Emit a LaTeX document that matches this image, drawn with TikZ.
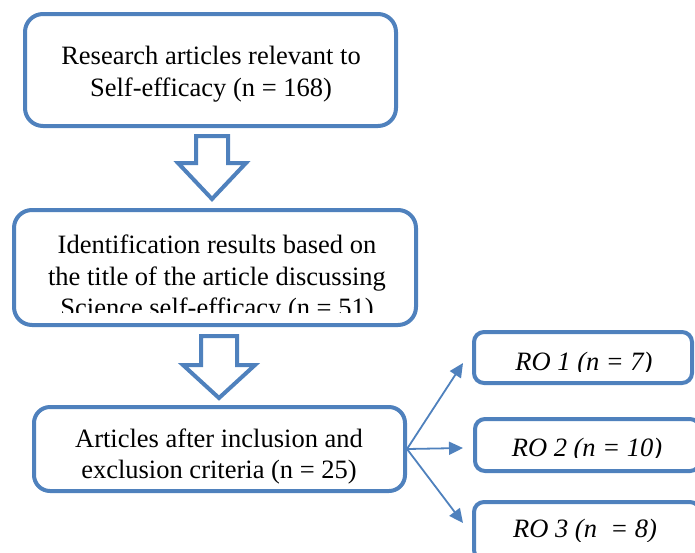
\documentclass[tikz,border=0pt]{standalone}
\usepackage{fontspec}
\setmainfont{Liberation Serif}
\usetikzlibrary{arrows.meta}
\definecolor{obl}{RGB}{79,129,189}
\tikzset{
  box/.style={draw=obl, line width=4pt, fill=white, rounded corners=#1, inner sep=0pt},
  box/.default=18pt,
  txt/.style={align=center, inner sep=0pt, font=\fontsize{26.5}{31.5}\selectfont},
  rotxt/.style={inner sep=0pt, font=\fontsize{26.5}{31.5}\selectfont\itshape},
  blockarrow/.style={draw=obl, line width=4pt, fill=white, line join=miter},
  link/.style={draw=obl, line width=1.8pt, -{Triangle[length=14pt,width=13pt]}}
}
\begin{document}
\begin{tikzpicture}[x=1pt,y=-1pt]
\useasboundingbox (0,0) rectangle (695,552);
\clip (0,0) rectangle (695,552);
% boxes
\node[box, minimum width=371pt, minimum height=112pt] (b1) at (210.5,70) {};
\node[box, minimum width=402pt, minimum height=115pt] (b2) at (215,267.5) {};
\node[box=16pt, minimum width=371pt, minimum height=84pt] (b3) at (219.5,449) {};
\node[box=10pt, minimum width=218pt, minimum height=51pt] (r1) at (583,357.5) {};
\node[box=10pt, minimum width=225pt, minimum height=52pt] (r2) at (587.5,445) {};
\node[box=10pt, minimum width=226pt, minimum height=58pt] (r3) at (587,531) {};
% texts
\node[txt] (t1) at (211,74) {Research articles relevant to\\Self-efficacy (n = 168)};
\begin{scope}
\clip (0,0) rectangle (695,312);
\node[txt] (t2) at (217,279) {Identification results based on\\the title of the article discussing\\Science self-efficacy (n = 51)};
\end{scope}
\begin{scope}
\clip (0,0) rectangle (695,485);
\node[txt] (t3) at (219,456.5) {Articles after inclusion and\\exclusion criteria (n = 25)};
\end{scope}
\begin{scope}
\clip (0,0) rectangle (695,371.5);
\node[rotxt, anchor=base] (s1) at (584,370) {RO 1 (n = 7)};
\end{scope}
\begin{scope}
\clip (0,0) rectangle (695,457.5);
\node[rotxt, anchor=base] (s2) at (587,456) {RO 2 (n = 10)};
\end{scope}
\begin{scope}
\clip (0,0) rectangle (695,541);
\node[rotxt, anchor=base] (s3) at (585,537) {RO 3 (n \ = 8)};
\end{scope}
% block arrows
\draw[blockarrow] (196,136) -- (228,136) -- (228,163) -- (246,163) -- (212,199) -- (178,163) -- (196,163) -- cycle;
\draw[blockarrow] (201,336) -- (237,336) -- (237,365) -- (255,365) -- (219,398) -- (183,365) -- (201,365) -- cycle;
% connectors
\coordinate (e1) at (463,363);
\coordinate (e2) at (463,448);
\coordinate (e3) at (463,523);
\draw[link] (b3.east) -- (e1);
\draw[link] (b3.east) -- (e2);
\draw[link] (b3.east) -- (e3);
\end{tikzpicture}
\end{document}
